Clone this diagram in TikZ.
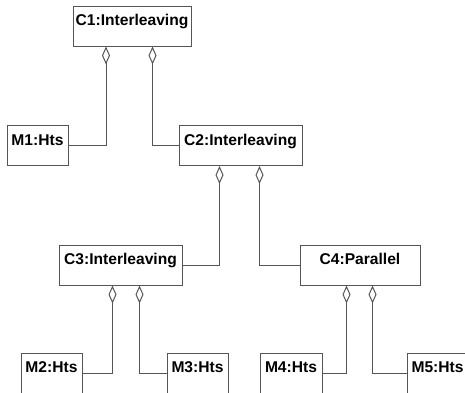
\documentclass[tikz,border=0pt]{standalone}
\usepackage{fontspec}
\setmainfont{Liberation Sans}
\usetikzlibrary{arrows.meta}
\begin{document}
\begin{tikzpicture}[x=1pt,y=-1pt,
  obj/.style={draw=linegray, line width=1pt, rectangle, inner sep=0pt,
    minimum height=40pt, text height=19.5pt, text depth=20.5pt,
    font=\bfseries\fontsize{15.6}{15.6}\selectfont},
  agg/.style={draw=linegray, line width=1pt,
    {Diamond[open, length=18pt, width=8pt, line width=1pt]}-},
]
\definecolor{linegray}{HTML}{555555}
\useasboundingbox (0,0) rectangle (465,392);
% object boxes
\node[obj, minimum width=118pt] (C1) at (132,26) {C1:Interleaving};
\node[obj, minimum width=61pt]  (M1) at (37.5,145.5) {M1:Hts};
\node[obj, minimum width=123pt] (C2) at (240.5,145.5) {C2:Interleaving};
\node[obj, minimum width=123pt] (C3) at (120.5,265) {C3:Interleaving};
\node[obj, minimum width=120pt] (C4) at (360,265) {C4:Parallel};
\node[obj, minimum width=61pt]  (M2) at (51.5,373) {M2:Hts};
\node[obj, minimum width=61pt]  (M3) at (197.5,373) {M3:Hts};
\node[obj, minimum width=62pt]  (M4) at (291,373) {M4:Hts};
\node[obj, minimum width=61pt]  (M5) at (437.5,373) {M5:Hts};
% aggregation links
\draw[agg] ([xshift=33.5pt]C1.south west) |- (M1.east);
\draw[agg] ([xshift=80pt]C1.south west) |- (C2.west);
\draw[agg] ([xshift=41pt]C2.south west) |- (C3.east);
\draw[agg] ([xshift=81pt]C2.south west) |- (C4.west);
\draw[agg] ([xshift=54pt]C3.south west) |- (M2.east);
\draw[agg] ([xshift=81pt]C3.south west) |- (M3.west);
\draw[agg] ([xshift=47pt]C4.south west) |- (M4.east);
\draw[agg] ([xshift=73pt]C4.south west) |- (M5.west);
\end{tikzpicture}
\end{document}
